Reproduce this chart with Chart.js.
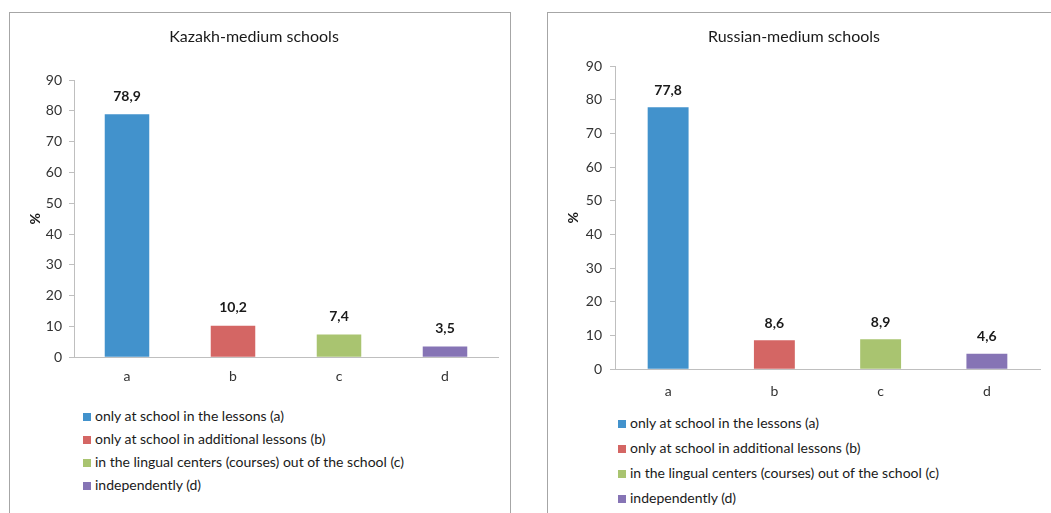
<!DOCTYPE html>
<html>
<head>
<meta charset="utf-8">
<script src="https://cdn.jsdelivr.net/npm/chart.js"></script>
<style>
  body { margin: 0; background: #fff; overflow: hidden; width: 1051px; height: 513px; position: relative; font-family: Lato, "Open Sans", sans-serif; }
  .panel { position: absolute; border: 1px solid #a6a6a6; background: #fff; }
  .panel canvas { position: absolute; }
  .legend { position: absolute; font-size: 14px; color: #1a1a1a; }
  .legend div { position: absolute; white-space: nowrap; }
  .legend span { display: inline-block; width: 8px; height: 8px; margin-right: 4px; }
</style>
</head>
<body>

<div class="panel" id="leftPanel" style="left:9px; top:12px; width:500px; height:520px;">
  <canvas id="kazakhChart" width="499" height="383" style="left:0; top:0;"></canvas>
  <div class="legend" id="kazakhLegend"></div>
</div>

<div class="panel" id="rightPanel" style="left:547px; top:12px; width:540px; height:520px;">
  <canvas id="russianChart" width="518" height="401" style="left:0; top:0;"></canvas>
  <div class="legend" id="russianLegend"></div>
</div>

<script>
const categories = ["a", "b", "c", "d"];
const kazakhValues = [78.9, 10.2, 7.4, 3.5];
const russianValues = [77.8, 8.6, 8.9, 4.6];
const legendLabels = [
  "only at school in the lessons (a)",
  "only at school in additional lessons (b)",
  "in the lingual centers (courses) out of the school (c)",
  "independently (d)"
];
const barColors = ["#4292cc", "#d46664", "#a9c470", "#8674b5"];
const yMax = 90;
const yStep = 10;

const axisGray = "#bfbfbf";
const fontName = "Lato";

// values over the bars, with a decimal comma
const valueLabels = {
  id: "valueLabels",
  afterDatasetsDraw(chart, args, opts) {
    const ctx = chart.ctx;
    const meta = chart.getDatasetMeta(0);
    ctx.save();
    ctx.font = "bold 14px " + fontName;
    ctx.fillStyle = "#1a1a1a";
    ctx.textAlign = "center";
    ctx.textBaseline = "middle";
    meta.data.forEach((bar, i) => {
      let v = chart.data.datasets[0].data[i];
      ctx.fillText(v.toFixed(1).replace(".", ","), bar.x, bar.y - opts.offset);
    });
    ctx.restore();
  }
};

function makeChart(canvasId, title, values, s) {
  let canvas = document.getElementById(canvasId);
  return new Chart(canvas, {
    type: "bar",
    data: {
      labels: categories,
      datasets: [{
        data: values,
        backgroundColor: barColors,
        borderWidth: 0,
        categoryPercentage: 1,
        barPercentage: s.barPct
      }]
    },
    options: {
      responsive: false,
      animation: false,
      devicePixelRatio: 1,
      layout: { padding: { left: 0, right: s.padRight, top: 0, bottom: 0 } },
      plugins: {
        legend: { display: false },
        tooltip: { enabled: false },
        title: {
          display: true,
          text: title,
          color: "#1a1a1a",
          font: { family: fontName, size: 16, weight: "normal" },
          padding: { top: 14, bottom: s.titleGap }
        },
        valueLabels: { offset: s.labelOffset }
      },
      scales: {
        x: {
          grid: { display: false, drawTicks: false },
          border: { color: axisGray, width: 1 },
          ticks: { color: "#333333", padding: s.xPad, font: { family: fontName, size: 14 } }
        },
        y: {
          min: 0,
          max: yMax,
          afterFit: (scale) => { scale.width = s.yWidth; },
          ticks: { stepSize: yStep, color: "#333333", padding: s.yPad, font: { family: fontName, size: 14 } },
          grid: { drawOnChartArea: false, drawTicks: true, tickLength: 5, color: axisGray },
          border: { color: axisGray, width: 1 },
          title: {
            display: true,
            text: "%",
            color: "#1a1a1a",
            font: { family: fontName, size: 14, weight: "bold" },
            padding: { top: 17, bottom: 0 }
          }
        }
      }
    },
    plugins: [valueLabels]
  });
}

function makeLegend(id, x, top, step) {
  let box = document.getElementById(id);
  legendLabels.forEach((txt, i) => {
    let row = document.createElement("div");
    row.style.left = x + "px";
    row.style.top = (top + i * step) + "px";
    row.innerHTML = `<span style="background:${barColors[i]}"></span>${txt}`;
    box.appendChild(row);
  });
}

makeChart("kazakhChart", "Kazakh-medium schools", kazakhValues,
  { barPct: 0.42, padRight: 11, titleGap: 34, xPad: 11, yPad: 7, yWidth: 64, labelOffset: 18 });
makeChart("russianChart", "Russian-medium schools", russianValues,
  { barPct: 0.385, padRight: 26, titleGap: 20, xPad: 14, yPad: 8, yWidth: 67, labelOffset: 17 });

// legend rows: top is the row's top edge inside the panel
makeLegend("kazakhLegend", 73, 394, 23);
makeLegend("russianLegend", 70, 401, 25);
</script>
</body>
</html>
